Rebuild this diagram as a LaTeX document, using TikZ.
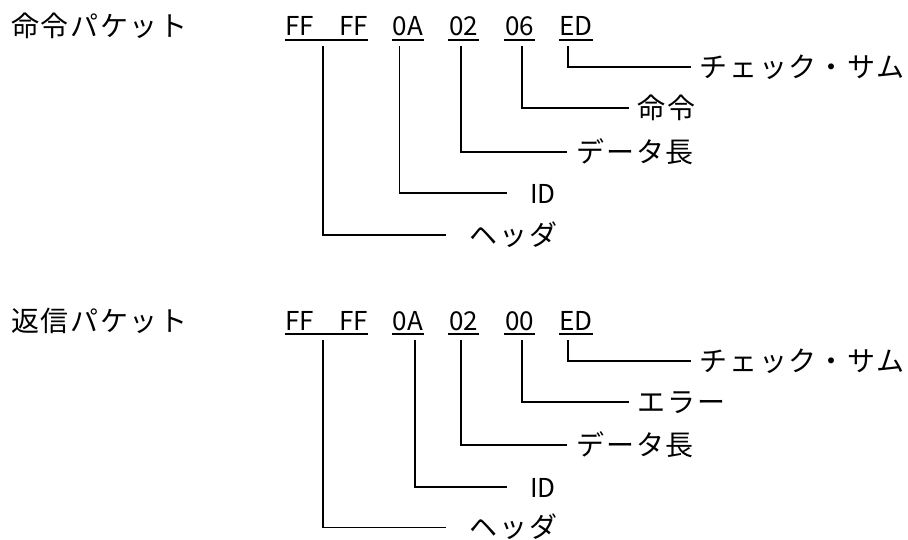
\documentclass[tikz,border=0pt]{standalone}
\usepackage{fontspec}
\setmainfont{Noto Sans CJK JP}
\newfontfamily\jpfont[LetterSpace=6]{Noto Sans CJK JP}
\newfontfamily\hexfont{Noto Sans CJK JP}
\tikzset{
  hexbyte/.style={font=\fontsize{26}{28}\hexfont, inner sep=0pt, anchor=base},
  fieldlabel/.style={font=\fontsize{28}{32}\jpfont, inner ysep=0pt,
    text height=21.6pt, text depth=0.8pt, anchor=west},
  latinlabel/.style={fieldlabel, font=\fontsize{26}{30}\hexfont},
  packettitle/.style={font=\fontsize{28}{32}\jpfont, inner sep=0pt, anchor=base west},
  conn/.style={line width=1.9pt},
  uline/.style={line width=1.9pt},
}
\begin{document}
\begin{tikzpicture}[x=1pt, y=-1pt]
\useasboundingbox (0,0) rectangle (908,540);

% ---------- command packet ----------
\node[packettitle] (t1) at (11,37) {命令パケット};
\node[hexbyte, minimum width=83pt] (a1) at (326.5,36) {\makebox[83pt][s]{FF\hfill FF}};
\node[hexbyte, minimum width=32pt] (a2) at (408,36) {0A};
\node[hexbyte, minimum width=31pt] (a3) at (463.5,36) {02};
\node[hexbyte, minimum width=31pt] (a4) at (519.5,36) {06};
\node[hexbyte, minimum width=34pt] (a5) at (576,36) {ED};
\foreach \n in {a1,a2,a3,a4,a5}
  \draw[uline] ([yshift=-4pt]\n.base west) -- ([yshift=-4pt]\n.base east);

\node[fieldlabel, inner xsep=8.5pt] (ca) at (691,67) {チェック・サム};
\node[fieldlabel, inner xsep=8.5pt] (cb) at (629,108) {命令};
\node[fieldlabel, inner xsep=9.5pt] (cc) at (567,152) {データ長};
\node[latinlabel, inner xsep=23pt] (cd) at (507,193) {ID};
\node[fieldlabel, inner xsep=23.5pt] (ce) at (446,235) {ヘッダ};

\draw[conn] ([xshift=-8pt,yshift=-10pt]a5.base) |- (ca.west);
\draw[conn] ([xshift=2.5pt,yshift=-10pt]a4.base) |- (cb.west);
\draw[conn] ([xshift=-2.5pt,yshift=-10pt]a3.base) |- (cc.west);
\draw[conn] ([xshift=-8.5pt,yshift=-10pt]a2.base) |- (cd.west);
\draw[conn] ([xshift=-3.5pt,yshift=-10pt]a1.base) |- (ce.west);

% ---------- reply packet ----------
\node[packettitle] (t2) at (11,331) {返信パケット};
\node[hexbyte, minimum width=83pt] (b1) at (326.5,330) {\makebox[83pt][s]{FF\hfill FF}};
\node[hexbyte, minimum width=32pt] (b2) at (408,330) {0A};
\node[hexbyte, minimum width=31pt] (b3) at (463.5,330) {02};
\node[hexbyte, minimum width=31pt] (b4) at (519.5,330) {00};
\node[hexbyte, minimum width=34pt] (b5) at (576,330) {ED};
\foreach \n in {b1,b2,b3,b4,b5}
  \draw[uline] ([yshift=-4pt]\n.base west) -- ([yshift=-4pt]\n.base east);

\node[fieldlabel, inner xsep=8.5pt] (ra) at (691,361) {チェック・サム};
\node[fieldlabel, inner xsep=8.5pt] (rb) at (629,402) {エラー};
\node[fieldlabel, inner xsep=9.5pt] (rc) at (567,445) {データ長};
\node[latinlabel, inner xsep=23pt] (rd) at (507,487) {ID};
\node[fieldlabel, inner xsep=23.5pt] (re) at (446,527.5) {ヘッダ};

\draw[conn] ([xshift=-8pt,yshift=-10pt]b5.base) |- (ra.west);
\draw[conn] ([xshift=2.5pt,yshift=-10pt]b4.base) |- (rb.west);
\draw[conn] ([xshift=-2.5pt,yshift=-10pt]b3.base) |- (rc.west);
\draw[conn] ([xshift=7pt,yshift=-10pt]b2.base) |- (rd.west);
\draw[conn] ([xshift=-3.5pt,yshift=-10pt]b1.base) |- (re.west);
\end{tikzpicture}
\end{document}
